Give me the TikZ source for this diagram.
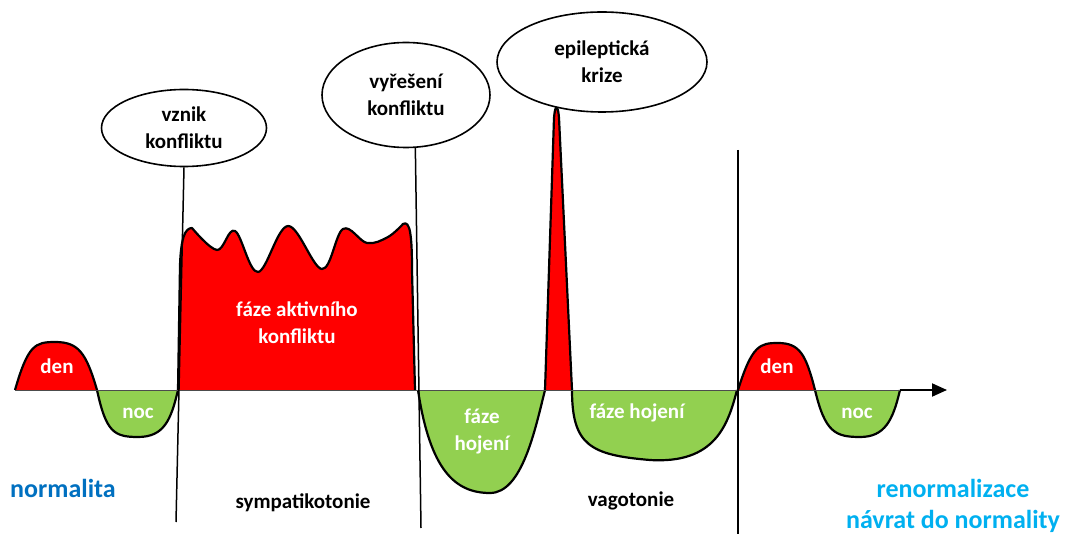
\documentclass[tikz,border=0pt]{standalone}
\usepackage{fontspec}
\setmainfont{Carlito}
\usetikzlibrary{positioning,shapes.geometric,arrows.meta}
\definecolor{krev}{HTML}{FF0000}
\definecolor{trava}{HTML}{92D050}
\definecolor{modra}{HTML}{0070C0}
\definecolor{azur}{HTML}{00B0F0}
\tikzstyle{bubble} = [ellipse, draw=black, line width=1.6pt, fill=white, inner sep=0pt, align=center, font=\bfseries\fontsize{21}{27}\selectfont]
\tikzstyle{curve} = [line width=2.2pt, line join=round]
\tikzstyle{divider} = [line width=1.5pt]
\tikzstyle{inside} = [text=white, align=center, font=\bfseries\fontsize{21}{27}\selectfont]
\tikzstyle{phase} = [align=center, font=\bfseries\fontsize{21}{27}\selectfont]
\tikzstyle{state} = [align=center, font=\bfseries\fontsize{26}{31}\selectfont]
\tikzstyle{arrow} = [line width=2pt, -{Triangle[length=15pt,width=13pt]}]

\begin{document}
\begin{tikzpicture}[x=1pt, y=-1pt]
        \useasboundingbox (0,0) rectangle (1065,534);
        \coordinate (start) at (15,390);
        \coordinate (nocend) at (900,390);
        \coordinate (tip) at (947,390);
        \coordinate (low1) at (176,522);
        \coordinate (low2) at (421,528);
        \coordinate (top3) at (738,150);
        \coordinate (low3) at (738,534);

        % normalita
        \draw[curve, fill=krev] (start) .. controls (28,345) and (35,342) .. (55,342) .. controls (78,342) and (86,352) .. (97,390);
        \draw[curve, fill=trava] (97,390) .. controls (106,432) and (114,437) .. (138,437) .. controls (164,437) and (171,420) .. (178,390);
        % sympatikotonie
        \draw[curve, fill=krev] (178,390) -- (180,265) .. controls (181,238) and (185,228) .. (192,228) -- plot[smooth, tension=0.6] coordinates {(192,228) (217,250) (235,231) (258,272) (288,226) (322,269) (343,229) (367,243) (388,237) (403,224)} .. controls (410,220) and (412,235) .. (412,270) -- (415,390);
        % vagotonie
        \draw[curve, fill=trava] (418,390) .. controls (430,470) and (455,493) .. (490,493) .. controls (522,493) and (535,430) .. (545,390);
        \draw[curve, fill=krev] (545,390) -- (554,118) .. controls (555,104) and (558,104) .. (559,118) -- (572,390);
        \draw[curve, fill=trava] (572,390) .. controls (572,445) and (590,455) .. (650,460) .. controls (715,464) and (728,425) .. (737,390);
        % renormalizace
        \draw[curve, fill=krev] (738,390) .. controls (752,345) and (760,343) .. (778,343) .. controls (800,343) and (806,355) .. (815,390);
        \draw[curve, fill=trava] (815,390) .. controls (825,432) and (835,437) .. (860,437) .. controls (885,437) and (893,420) .. (nocend);

        \draw[line width=0.6pt, black!70] (start) -- (nocend);
        \draw[arrow] (nocend) -- (tip);

        \node (vznik) [bubble, minimum width=165pt, minimum height=77pt] at (184,128) {vznik\\konfliktu};
        \node (vyreseni) [bubble, minimum width=168pt, minimum height=105pt] at (406,95) {vyřešení\\konfliktu};
        \node (krize) [bubble, minimum width=210pt, minimum height=100pt] at (602,62) {epileptická\\krize};

        \draw[divider] (vznik.south) -- (low1);
        \draw[divider] (vyreseni.-80) -- (low2);
        \draw[divider] (top3) -- (low3);

        \node (den1) [inside] at (57,366) {den};
        \node (noc1) [inside] at (138,413) {noc};
        \node (aktivni) [inside] at (297,323) {fáze aktivního\\konfliktu};
        \node (hojeni1) [inside] at (482,431) {fáze\\hojení};
        \node (hojeni2) [inside] at (637,413) {fáze hojení};
        \node (den2) [inside] at (777,366) {den};
        \node (noc2) [inside] at (857,413) {noc};

        \node (normalita) [state, text=modra] at (63,488) {normalita};
        \node (sympatikotonie) [phase] at (303,503) {sympatikotonie};
        \node (vagotonie) [phase] at (631,501) {vagotonie};
        \node (renorm) [state, text=azur] at (953,506) {renormalizace\\návrat do normality};
\end{tikzpicture}
\end{document}
